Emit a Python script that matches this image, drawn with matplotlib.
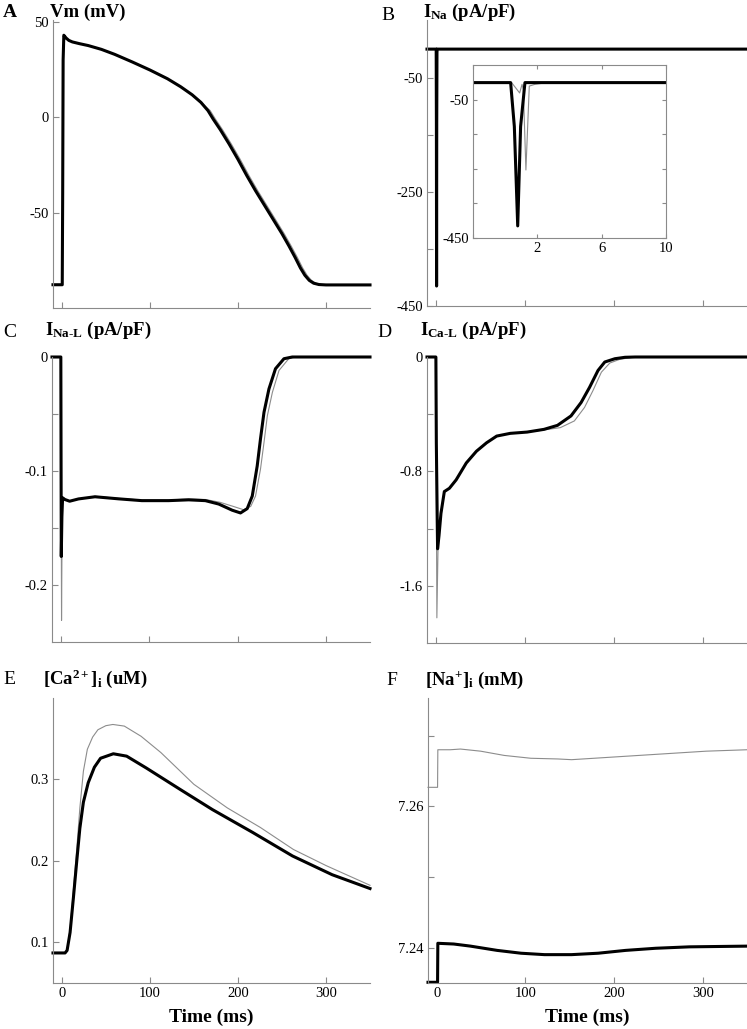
import matplotlib
matplotlib.use('Agg')
import matplotlib.pyplot as plt

# ---- data (time in ms) ----
# A: Vm (mV)
vm_t = [-10, 0.5, 1.0, 1.5, 2.3, 5, 8, 12, 20, 30, 45, 60, 80, 100, 120, 135, 148, 158, 166, 172, 180, 190,
        200, 210, 220, 230, 240, 250, 258, 265, 271, 276, 281, 286, 292, 300, 350]
vm_v = [-87.8, -87.8, -40, 30, 43, 41.5, 40.3, 39.5, 38.6, 37.6, 35.6, 33, 29, 24.8, 20.2, 16, 11.8, 7.8, 3.5,
        -1, -6.5, -14, -22, -30.5, -38.5, -46, -53.5, -61, -67.5, -73.5, -79, -82.8, -85.5, -87, -87.7, -87.9, -87.9]
vm_t_gray = [-10, 0.5, 1.0, 1.5, 2.3, 5, 8, 12, 20, 30, 45, 60, 80, 100, 120, 135, 148, 158, 168.5, 174.5, 182.5,
             192.5, 202.5, 212.5, 222.5, 232.5, 242.5, 252.5, 260.5, 267.5, 273.5, 278.5, 283.5, 288.5, 294.5, 302.5, 350]
vm_v_gray = vm_v

# B: INa (pA/pF)
ina_t = [-10, 0.34, 0.57, 0.78, 0.96, 1.23, 350]
ina_v = [0, 0, -127, -415, -127, 0, 0]
ina_t_gray = [-10, 0.4, 0.9, 1.05, 1.13, 1.29, 1.5, 1.85, 2.6, 350]
ina_v_gray = [0, 0, -30, -5, -20, -253, -10, -5, 0, 0]

# C: INa-L (pA/pF)
inal_t = [-10, 0, 0.5, 1.2, 2, 4.6, 10, 20, 38.7, 65, 91.7, 122, 144.7, 163.6, 178.8, 194, 203.4, 211, 216.7,
          222.3, 226, 230, 235.6, 243, 252.6, 262, 350]
inal_v = [0, 0, -0.175, -0.14, -0.1235, -0.125, -0.1265, -0.1245, -0.1226, -0.1244, -0.126, -0.126, -0.1253,
          -0.126, -0.129, -0.1344, -0.1368, -0.133, -0.122, -0.0956, -0.072, -0.0485, -0.028, -0.0103, -0.0015, 0, 0]
inal_t_gray = [-10, 0, 0.8, 1.5, 2, 4.6, 10, 20, 38.7, 65, 91.7, 122, 144.7, 163.6, 180, 195, 207, 215, 220.4,
               226, 230, 233.8, 239.5, 247, 258, 266, 350]
inal_v_gray = [0, 0, -0.231, -0.14, -0.1235, -0.125, -0.1265, -0.1245, -0.1222, -0.124, -0.1255, -0.1255,
               -0.1245, -0.125, -0.1274, -0.131, -0.134, -0.131, -0.122, -0.0985, -0.075, -0.0515, -0.031,
               -0.0118, -0.0015, 0, 0]

# D: ICa-L (pA/pF)
ical_t = [-10, 0, 0.5, 1.9, 3.5, 5.7, 9.5, 15.2, 22.8, 34.2, 45.6, 57, 68.4, 83.6, 102.6, 121.6, 136.8, 152,
          163.4, 172.9, 182.4, 190, 201.4, 212.8, 224.3, 350]
ical_v = [0, 0, -0.6, -1.341, -1.25, -1.094, -0.941, -0.918, -0.859, -0.741, -0.659, -0.6, -0.553, -0.534,
          -0.525, -0.506, -0.478, -0.412, -0.318, -0.212, -0.094, -0.035, -0.012, -0.002, 0, 0]
ical_t_gray = [-10, 0, 0.5, 1.1, 2.5, 5.7, 9.5, 15.2, 22.8, 34.2, 45.6, 57, 68.4, 83.6, 102.6, 121.6, 140,
               155.8, 167.2, 176.7, 186.2, 195.7, 207, 224.3, 350]
ical_v_gray = [0, 0, -0.9, -1.824, -1.3, -1.094, -0.941, -0.918, -0.859, -0.741, -0.659, -0.6, -0.553, -0.534,
               -0.525, -0.51, -0.494, -0.447, -0.353, -0.235, -0.106, -0.042, -0.016, 0, 0]

# E: [Ca2+]i (uM)
cai_t = [-10, 3.7, 6, 9.4, 13.2, 17, 20.5, 24.5, 30, 37, 44, 58.5, 73.6, 96, 134, 171, 216.6, 262, 307, 350]
cai_v = [0.0869, 0.0869, 0.090, 0.112, 0.155, 0.200, 0.240, 0.272, 0.296, 0.315, 0.326, 0.3315, 0.3286,
         0.314, 0.288, 0.263, 0.235, 0.206, 0.183, 0.166]
cai_t_gray = [-10, 3.7, 6, 9.4, 13.2, 17, 20.5, 24.5, 29, 35, 41, 50, 58, 71, 90, 112.5, 150, 188, 225.5, 263,
              300.5, 350]
cai_v_gray = [0.0869, 0.0869, 0.091, 0.116, 0.165, 0.215, 0.265, 0.310, 0.337, 0.352, 0.361, 0.366, 0.3675,
              0.3655, 0.353, 0.333, 0.294, 0.265, 0.241, 0.214, 0.194, 0.170]

# F: [Na+]i (mM)
nai_t = [-10, 0.8, 1.1, 19, 38, 68, 95, 121.5, 152, 182, 213, 247, 285, 350]
nai_v = [7.2352, 7.2352, 7.2407, 7.2406, 7.2403, 7.2397, 7.2393, 7.2391, 7.2391, 7.2393, 7.2397, 7.2400,
         7.2402, 7.2403]
nai_t_gray = [-10, 0.8, 1.1, 15, 26.6, 49.4, 76, 106, 136.7, 152, 190, 228, 266, 304, 350]
nai_v_gray = [7.2627, 7.2627, 7.2680, 7.2680, 7.2681, 7.2678, 7.2672, 7.2668, 7.2667, 7.2666, 7.2669, 7.2672,
              7.2675, 7.2678, 7.2680]

time_ticks = [0, 100, 200, 300]

W, H = 747, 1029
GRAY = '#8c8c8c'
AXIS_GRAY = '#8a8a8a'

plt.rcParams['font.family'] = ['Liberation Serif', 'DejaVu Serif']
plt.rcParams['mathtext.fontset'] = 'custom'
plt.rcParams['mathtext.rm'] = 'Liberation Serif'
plt.rcParams['mathtext.bf'] = 'Liberation Serif:bold'
plt.rcParams['mathtext.it'] = 'Liberation Serif:italic'
plt.rcParams['mathtext.default'] = 'bf'
plt.rcParams['axes.unicode_minus'] = False


def box(left, top, right, bottom):
    # pixel box -> figure fraction [l, b, w, h]
    return [left / W, 1 - bottom / H, (right - left) / W, (bottom - top) / H]


def style(ax, ylim, yticks, ylabels, xlabels=False):
    ax.set_xlim(-10, 350)
    ax.set_ylim(*ylim)
    ax.spines['top'].set_visible(False)
    ax.spines['right'].set_visible(False)
    for s in ('left', 'bottom'):
        ax.spines[s].set_color(AXIS_GRAY)
        ax.spines[s].set_linewidth(0.8)
    ax.set_xticks(time_ticks)
    if xlabels:
        ax.set_xticklabels([str(t) for t in time_ticks])
    else:
        ax.set_xticklabels([])
    ax.set_yticks(yticks)
    ax.set_yticklabels(ylabels)
    ax.tick_params(direction='in', length=4, width=0.8, color=AXIS_GRAY,
                   labelsize=10.5, pad=3)
    ax.patch.set_alpha(0)


def traces(ax, tg, vg, tb, vb, clip=False):
    ax.plot(tg, vg, color=GRAY, lw=0.8, clip_on=clip)
    ax.plot(tb, vb, color='black', lw=2.2, clip_on=clip, solid_joinstyle='round')


def title(x, y, text):
    fig.text(x / W, 1 - y / H, text, fontsize=13.5, fontweight='bold', va='baseline')


fig = plt.figure(figsize=(W / 100, H / 100), dpi=100)

axA = fig.add_axes(box(53, 20, 370, 308))
traces(axA, vm_t_gray, vm_v_gray, vm_t, vm_v)
style(axA, (-100, 51), [-50, 0, 50], ['-50', '0', '50'])

axB = fig.add_axes(box(427, 20, 747, 306))
traces(axB, ina_t_gray, ina_v_gray, ina_t, ina_v)
style(axB, (-450, 51), [-450, -350, -250, -150, -50], ['-450', '', '-250', '', '-50'])

axC = fig.add_axes(box(52, 357, 370, 642))
traces(axC, inal_t_gray, inal_v_gray, inal_t, inal_v)
style(axC, (-0.25, 0), [-0.2, -0.15, -0.1, -0.05, 0], ['-0.2', '', '-0.1', '', '0'])

axD = fig.add_axes(box(427, 357, 747, 643))
traces(axD, ical_t_gray, ical_v_gray, ical_t, ical_v)
style(axD, (-2.0, 0), [-1.6, -1.2, -0.8, -0.4, 0], ['-1.6', '', '-0.8', '', '0'])

axE = fig.add_axes(box(53, 698, 370, 983))
traces(axE, cai_t_gray, cai_v_gray, cai_t, cai_v)
style(axE, (0.05, 0.40), [0.1, 0.2, 0.3], ['0.1', '0.2', '0.3'], xlabels=True)
axE.set_xlabel('Time (ms)', fontsize=14, fontweight='bold', labelpad=6)

axF = fig.add_axes(box(428, 698, 747, 983))
traces(axF, nai_t_gray, nai_v_gray, nai_t, nai_v)
style(axF, (7.2351, 7.2753), [7.24, 7.25, 7.26, 7.27], ['7.24', '', '7.26', ''], xlabels=True)
axF.set_xlabel('Time (ms)', fontsize=14, fontweight='bold', labelpad=6)

# inset of B: zoom on the first 10 ms
axI = fig.add_axes(box(473, 65, 666, 238))
traces(axI, ina_t_gray, ina_v_gray, ina_t, ina_v, clip=True)
axI.set_xlim(-2, 10)
axI.set_ylim(-450, 51)
axI.set_xticks([-2, 2, 6, 10])
axI.set_xticklabels(['', '2', '6', '10'])
axI.set_yticks([-450, -350, -250, -150, -50])
axI.set_yticklabels(['-450', '', '', '', '-50'])
for s in axI.spines.values():
    s.set_color(AXIS_GRAY)
    s.set_linewidth(0.8)
axI.tick_params(direction='in', length=3, width=0.8, color=AXIS_GRAY,
                labelsize=10.5, pad=3, top=True, right=True)

# panel letters and titles
fig.text(3 / W, 1 - 17 / H, 'A', fontsize=14, fontweight='bold', va='baseline')
title(50, 17, 'Vm (mV)')
fig.text(381 / W, 1 - 20 / H, 'B', fontsize=14, va='baseline')
title(423, 17, r'I$_{Na}$ (pA/pF)')
fig.text(3 / W, 1 - 337 / H, 'C', fontsize=14, va='baseline')
title(45, 335, 'I$_{Na\u2010L}$ (pA/pF)')
fig.text(377 / W, 1 - 337 / H, 'D', fontsize=14, va='baseline')
title(420, 335, 'I$_{Ca\u2010L}$ (pA/pF)')
fig.text(3 / W, 1 - 684 / H, 'E', fontsize=14, va='baseline')
title(43, 684, r'[Ca$^{2+}$]$_{i}$ (uM)')
fig.text(386 / W, 1 - 685 / H, 'F', fontsize=14, va='baseline')
title(425, 685, r'[Na$^{+}$]$_{i}$ (mM)')

fig.savefig('out.png', dpi=100)
